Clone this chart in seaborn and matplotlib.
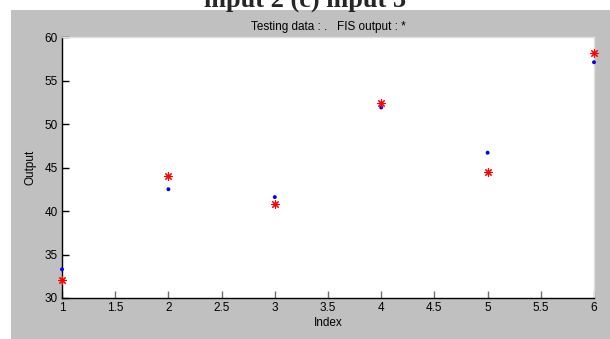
import matplotlib
matplotlib.use("Agg")
import matplotlib.pyplot as plt
import seaborn as sns
import pandas as pd
from matplotlib.patches import Rectangle

index = [1, 2, 3, 4, 5, 6]
testing_data = [33.3, 42.5, 41.6, 51.9, 46.7, 57.1]
fis_output = [32.1, 44.0, 40.8, 52.4, 44.5, 58.2]
xticks = [1, 1.5, 2, 2.5, 3, 3.5, 4, 4.5, 5, 5.5, 6]
yticks = [30, 35, 40, 45, 50, 55, 60]

sns.set_theme(style="white")
plt.rcParams['font.family'] = ['Liberation Sans Narrow', 'Liberation Sans', 'DejaVu Sans']

fig = plt.figure(figsize=(6.1, 3.39), dpi=100)
fig.patch.set_facecolor("white")
# gray MATLAB-like figure background
fig.patches.append(Rectangle((11 / 610, 0), 1 - 11 / 610, 1 - 10 / 339,
                             transform=fig.transFigure, facecolor="#c0c0c0",
                             edgecolor="none", zorder=-10))

ax = fig.add_axes([62 / 610, 41 / 339, 532 / 610, 261 / 339])
ax.set_facecolor("white")

df_t = pd.DataFrame({"Index": index, "Output": testing_data})
df_f = pd.DataFrame({"Index": index, "Output": fis_output})

sns.scatterplot(data=df_t, x="Index", y="Output", ax=ax, color="#0000ff",
                marker="o", s=8, edgecolor="none", clip_on=False, zorder=3)
sns.scatterplot(data=df_f, x="Index", y="Output", ax=ax, color="#ff0000",
                marker=(8, 2, 0), s=30, linewidth=0.8, clip_on=False, zorder=4)

ax.set_xlim(1, 6)
ax.set_ylim(30, 60)
ax.set_xticks(xticks)
ax.set_xticklabels([f"{t:g}" for t in xticks])
ax.set_yticks(yticks)
ax.set_yticklabels([str(t) for t in yticks])

for s in ["left", "bottom"]:
    ax.spines[s].set_color("black")
    ax.spines[s].set_linewidth(1.0)
for s in ["top", "right"]:
    ax.spines[s].set_color("#e0e0e0")
    ax.spines[s].set_linewidth(1.0)

ax.tick_params(axis="x", direction="in", length=5, width=1, colors="#707070",
               labelsize=8.5, labelcolor="black", pad=3, bottom=True)
ax.tick_params(axis="y", direction="in", length=5, width=1, colors="black",
               labelsize=8.5, labelcolor="black", pad=3, left=True)
ax.set_xlabel("Index", fontsize=8.5, color="black", labelpad=2)
ax.set_ylabel("Output", fontsize=8.5, color="black", labelpad=6)
ax.set_title("Testing data : .   FIS output : *", fontsize=8.5, color="black", pad=5)

fig.text(0.5, 1 - 7 / 339, "input 2 (c) input 3", ha="center", va="baseline",
         fontsize=19, fontweight="bold", family=["Liberation Serif", "DejaVu Serif"])

fig.savefig("out.png", dpi=100)
